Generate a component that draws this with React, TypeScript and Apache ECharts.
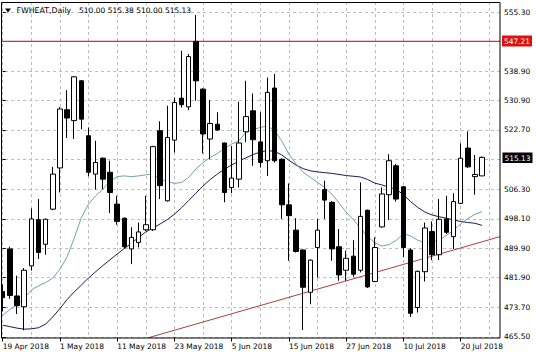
import React, { useEffect, useRef } from 'react';
import * as echarts from 'echarts';

// ---- data ----
const dates = [
  '19 Apr 2018', '20 Apr 2018', '23 Apr 2018', '24 Apr 2018', '25 Apr 2018', '26 Apr 2018', '27 Apr 2018', '30 Apr 2018',
  '1 May 2018', '2 May 2018', '3 May 2018', '4 May 2018', '7 May 2018', '8 May 2018', '9 May 2018', '10 May 2018',
  '11 May 2018', '14 May 2018', '15 May 2018', '16 May 2018', '17 May 2018', '18 May 2018', '21 May 2018', '22 May 2018',
  '23 May 2018', '24 May 2018', '25 May 2018', '29 May 2018', '30 May 2018', '31 May 2018', '1 Jun 2018', '4 Jun 2018',
  '5 Jun 2018', '6 Jun 2018', '7 Jun 2018', '8 Jun 2018', '11 Jun 2018', '12 Jun 2018', '13 Jun 2018', '14 Jun 2018',
  '15 Jun 2018', '18 Jun 2018', '19 Jun 2018', '20 Jun 2018', '21 Jun 2018', '22 Jun 2018', '25 Jun 2018', '26 Jun 2018',
  '27 Jun 2018', '28 Jun 2018', '29 Jun 2018', '2 Jul 2018', '3 Jul 2018', '5 Jul 2018', '6 Jul 2018', '9 Jul 2018',
  '10 Jul 2018', '11 Jul 2018', '12 Jul 2018', '13 Jul 2018', '16 Jul 2018', '17 Jul 2018', '18 Jul 2018', '19 Jul 2018',
  '20 Jul 2018', '23 Jul 2018', '24 Jul 2018', '25 Jul 2018',
];
const futureDates = ['26 Jul 2018', '27 Jul 2018'];

const opens = [
  478.0, 489.8, 476.8, 473.8, 485.1, 497.9, 491.1, 500.8,
  512.2, 528.3, 525.3, 536.3, 521.1, 510.5, 514.9, 511.0,
  502.2, 498.3, 489.8, 491.6, 495.1, 495.1, 522.5, 503.1,
  519.9, 531.5, 529.1, 547.2, 534.0, 520.2, 524.3, 519.1,
  506.8, 509.1, 522.2, 528.0, 519.4, 514.2, 534.3, 514.6,
  502.0, 495.0, 489.5, 477.8, 490.2, 506.2, 502.7, 490.4,
  483.9, 487.8, 483.9, 500.5, 480.8, 495.9, 504.8, 512.8,
  507.0, 489.5, 473.6, 483.5, 494.6, 488.2, 498.1, 493.2,
  502.4, 517.7, 509.8, 510.0,
];
const highs = [
  480.0, 490.4, 482.4, 484.5, 501.0, 503.6, 498.2, 512.5,
  529.1, 533.7, 537.6, 536.5, 523.4, 519.7, 515.1, 514.2,
  504.5, 498.5, 495.8, 497.1, 504.5, 518.3, 525.1, 529.4,
  531.7, 544.6, 543.7, 554.5, 534.2, 531.0, 527.6, 519.2,
  518.3, 530.5, 536.3, 532.8, 527.6, 537.2, 538.2, 514.8,
  507.9, 498.3, 489.7, 486.9, 498.1, 508.7, 503.0, 495.3,
  489.3, 492.2, 508.2, 500.7, 493.0, 506.8, 516.0, 513.3,
  507.2, 490.0, 483.8, 497.1, 497.4, 503.6, 504.5, 505.2,
  519.0, 522.3, 515.8, 515.38,
];
const lows = [
  472.5, 476.0, 471.8, 467.3, 483.8, 487.0, 488.2, 500.5,
  505.4, 520.5, 520.2, 522.9, 509.9, 506.2, 506.4, 499.7,
  496.5, 489.8, 485.6, 490.2, 494.8, 494.8, 503.6, 502.9,
  516.5, 528.9, 528.2, 530.8, 516.2, 514.6, 522.5, 502.7,
  505.2, 506.8, 519.3, 512.8, 512.3, 510.0, 513.7, 498.1,
  486.5, 488.8, 467.4, 474.5, 481.9, 498.1, 486.5, 481.0,
  481.0, 482.1, 483.3, 479.0, 480.6, 495.7, 497.8, 502.9,
  487.5, 471.0, 472.2, 480.8, 486.7, 486.7, 493.9, 489.8,
  502.2, 512.2, 504.8, 510.0,
];
const closes = [
  476.3, 476.9, 474.1, 483.9, 498.1, 488.8, 498.0, 510.5,
  528.5, 526.0, 537.4, 525.7, 511.0, 513.7, 509.1, 505.4,
  497.4, 490.4, 493.0, 494.5, 496.5, 518.1, 507.3, 520.6,
  530.3, 529.7, 543.0, 536.3, 521.6, 524.5, 522.7, 505.4,
  509.4, 519.1, 526.4, 520.0, 513.7, 533.1, 514.2, 502.0,
  499.0, 489.1, 479.2, 486.7, 495.0, 503.3, 489.8, 482.6,
  487.2, 482.8, 498.8, 479.3, 490.2, 505.0, 514.2, 503.6,
  490.2, 472.0, 483.6, 495.6, 488.2, 498.0, 494.4, 502.9,
  514.9, 512.5, 510.4, 515.13,
];

// moving averages
const maFast = [
  471.4, 473.0, 474.3, 476.2, 478.4, 479.6, 480.5, 481.7,
  484.2, 487.6, 492.8, 498.5, 502.2, 504.5, 506.3, 508.6,
  509.8, 510.0, 509.8, 510.0, 510.3, 510.5, 509.1, 508.5,
  507.9, 508.2, 509.6, 511.9, 513.7, 515.1, 516.2, 517.6,
  518.8, 519.7, 522.0, 522.8, 523.4, 523.8, 522.6, 519.7,
  516.0, 513.3, 511.0, 509.6, 508.2, 506.8, 505.0, 502.5,
  500.0, 497.9, 495.6, 493.2, 491.5, 490.6, 491.0, 492.2,
  494.0, 493.4, 492.2, 491.5, 491.8, 492.3, 493.5, 495.0,
  496.7, 498.2, 499.4, 500.1,
];
const maSlow = [
  468.7, 468.3, 467.9, 467.6, 467.7, 468.0, 469.0, 471.0,
  473.3, 475.8, 477.9, 479.8, 481.8, 483.5, 485.2, 486.8,
  488.4, 489.9, 491.4, 493.0, 494.5, 495.6, 496.7, 497.9,
  499.4, 501.2, 503.2, 505.2, 507.2, 509.0, 510.5, 511.9,
  513.0, 514.1, 515.0, 515.9, 516.6, 517.0, 516.8, 515.8,
  514.3, 513.0, 512.0, 511.4, 511.1, 510.9, 510.7, 510.4,
  510.1, 509.9, 509.7, 509.0, 508.0, 507.5, 506.9, 506.3,
  504.8, 502.9, 501.3, 500.0, 499.2, 498.7, 498.3, 497.8,
  497.4, 497.1, 496.9, 496.3,
];

const priceTicks = [465.5, 473.7, 481.9, 489.9, 498.1, 506.3, 514.5, 522.7, 530.9, 538.9, 555.3];
const priceLabelValues = [465.5, 473.7, 481.9, 489.9, 498.1, 506.3, 522.7, 530.9, 538.9, 555.3];
const dateLabelIndex = [0, 8, 16, 24, 32, 40, 48, 56, 64];
const dateGridIndex = [0, 4, 8, 12, 16, 20, 24, 28, 32, 36, 40, 44, 48, 52, 56, 60, 64, 68];

const resistanceLevel = 547.21;
const lastPrice = 515.13;
const trendLine = [[20.3, 465.2], [69.5, 493.2]];

const symbolTitle = 'FWHEAT,Daily';
const ohlcTitle = '510.00 515.38 510.00 515.13';

const FONT = 'DejaVu Sans';

export default function App() {
  const ref = useRef<HTMLDivElement>(null);

  useEffect(() => {
    if (!ref.current) return;
    const chart = echarts.init(ref.current, null, { renderer: 'svg' });
    const categories = dates.concat(futureDates);
    const candleData = opens.map((o, i) => [o, closes[i], lows[i], highs[i]]);
    const gridLine = { color: '#bcbcbc', width: 1, type: [3, 3] as any };

    chart.setOption({
      animation: false,
      backgroundColor: '#ffffff',
      textStyle: { fontFamily: FONT },
      grid: {
        left: -0.9,
        right: 36,
        top: 2,
        bottom: 19.5,
        containLabel: false,
        outerBoundsMode: 'none',
      } as any,
      xAxis: [
        {
          type: 'category',
          data: categories,
          boundaryGap: true,
          position: 'top',
          show: false,
        },
        {
          type: 'value',
          min: -0.5,
          max: 69.5,
          position: 'bottom',
          axisLine: { show: false, onZero: false },
          axisTick: { show: false, customValues: dateGridIndex },
          axisLabel: { show: false },
          splitLine: { show: true, lineStyle: gridLine },
        },
        {
          type: 'value',
          min: -0.5,
          max: 69.5,
          position: 'bottom',
          axisLine: { show: false, onZero: false },
          axisTick: {
            show: true,
            length: 4,
            customValues: dateLabelIndex,
            lineStyle: { color: '#000', width: 1 },
          },
          axisLabel: {
            show: true,
            customValues: dateLabelIndex,
            formatter: (v: number) => categories[Math.round(v)] || '',
            align: 'left',
            margin: 5,
            color: '#000',
            fontSize: 7.5,
            fontFamily: FONT,
          },
          splitLine: { show: false },
        },
      ],
      yAxis: {
        type: 'value',
        min: 465.3,
        max: 558.1,
        position: 'right',
        scale: true,
        axisLine: { show: false },
        axisTick: {
          show: true,
          length: 3,
          customValues: priceTicks,
          lineStyle: { color: '#000', width: 1 },
        },
        axisLabel: {
          show: true,
          customValues: priceLabelValues,
          formatter: (v: number) => v.toFixed(2),
          margin: 4,
          color: '#000',
          fontSize: 7.5,
          fontFamily: FONT,
        },
        splitLine: { show: true, lineStyle: gridLine },
      },
      series: [
        {
          type: 'line',
          xAxisIndex: 0,
          data: maSlow,
          showSymbol: false,
          symbol: 'none',
          lineStyle: { color: '#1c1c52', width: 1 },
          z: 2,
        },
        {
          type: 'line',
          xAxisIndex: 0,
          data: maFast,
          showSymbol: false,
          symbol: 'none',
          lineStyle: { color: '#6aa5a8', width: 1 },
          z: 2,
        },
        {
          type: 'line',
          xAxisIndex: 1,
          data: trendLine,
          showSymbol: false,
          symbol: 'none',
          lineStyle: { color: '#a8403e', width: 1 },
          z: 3,
        },
        {
          type: 'line',
          xAxisIndex: 1,
          data: [[-0.5, resistanceLevel], [69.5, resistanceLevel]],
          showSymbol: false,
          symbol: 'none',
          lineStyle: { color: '#e02828', width: 1.2 },
          z: 3,
        },
        {
          type: 'candlestick',
          xAxisIndex: 0,
          data: candleData,
          barWidth: 5,
          itemStyle: {
            color: '#ffffff',
            color0: '#000000',
            borderColor: '#000000',
            borderColor0: '#000000',
            borderWidth: 1,
          },
          z: 5,
        },
      ],
      graphic: [
        { type: 'rect', z: 100, shape: { x: 0, y: 0, width: 1.5, height: 340 }, style: { fill: '#ffffff' } },
        {
          type: 'rect',
          z: 101,
          shape: { x: 1.5, y: 2.5, width: 498.5, height: 335.5 },
          style: { fill: 'none', stroke: '#000000', lineWidth: 1 },
        },
        {
          type: 'polygon',
          z: 101,
          shape: { points: [[5, 8.5], [11, 8.5], [8, 12.5]] },
          style: { fill: '#000000' },
        },
        {
          type: 'text',
          z: 101,
          x: 16.5,
          y: 10.5,
          style: { text: symbolTitle, fill: '#000', font: `7.8px "${FONT}"`, textVerticalAlign: 'middle' },
        },
        {
          type: 'text',
          z: 101,
          x: 79,
          y: 10.5,
          style: { text: ohlcTitle, fill: '#000', font: `7.5px "${FONT}"`, textVerticalAlign: 'middle' },
        },
        {
          type: 'rect',
          z: 101,
          shape: { x: 502, y: 35.5, width: 30, height: 11 },
          style: { fill: '#e01010' },
        },
        {
          type: 'text',
          z: 102,
          x: 517,
          y: 41.2,
          style: {
            text: resistanceLevel.toFixed(2),
            fill: '#ffffff',
            font: `7.5px "${FONT}"`,
            textAlign: 'center',
            textVerticalAlign: 'middle',
          },
        },
        {
          type: 'rect',
          z: 101,
          shape: { x: 502.5, y: 152.5, width: 30, height: 10.5 },
          style: { fill: '#000000' },
        },
        {
          type: 'text',
          z: 102,
          x: 517.5,
          y: 158,
          style: {
            text: lastPrice.toFixed(2),
            fill: '#ffffff',
            font: `7.5px "${FONT}"`,
            textAlign: 'center',
            textVerticalAlign: 'middle',
          },
        },
      ],
    } as any);

    return () => {
      chart.dispose();
    };
  }, []);

  return (
    <div
      ref={ref}
      style={{ position: 'fixed', left: 0, top: 0, width: 536, height: 357, background: '#ffffff' }}
    />
  );
}
